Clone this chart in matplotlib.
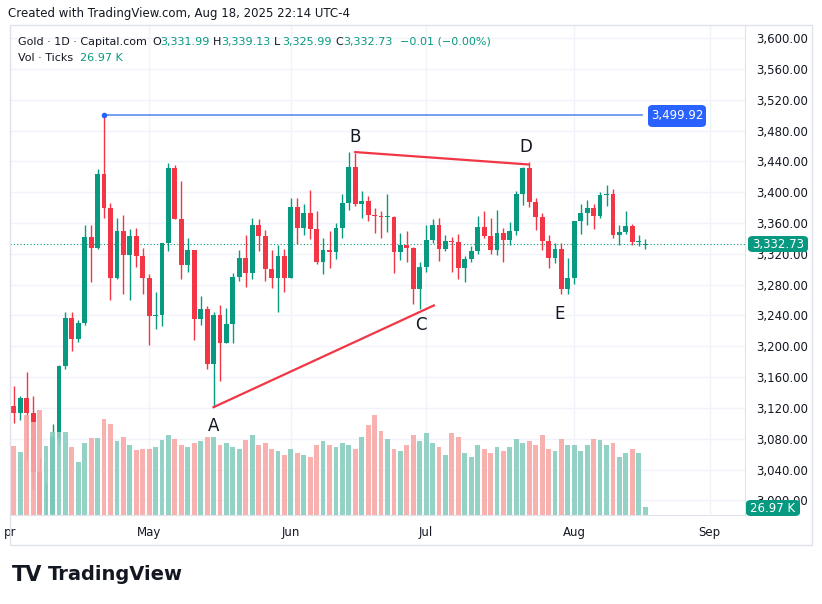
import matplotlib
matplotlib.use("Agg")
import matplotlib.pyplot as plt
from matplotlib.patches import FancyBboxPatch, Rectangle
import numpy as np

dates = (["Apr %d" % d for d in [1,2,3,4,7,8,9,10,11,14,15,16,17,21,22,23,24,25,28,29,30]] +
         ["May %d" % d for d in [1,2,5,6,7,8,9,12,13,14,15,16,19,20,21,22,23,26,27,28,29,30]] +
         ["Jun %d" % d for d in [2,3,4,5,6,9,10,11,12,13,16,17,18,19,20,23,24,25,26,27,30]] +
         ["Jul %d" % d for d in [1,2,3,4,7,8,9,10,11,14,15,16,17,18,21,22,23,24,25,28,29,30,31]] +
         ["Aug %d" % d for d in [1,4,5,6,7,8,11,12,13,14,15,18]])
opens = [3122,3113,3133,3114,3037,2982,2982,3080,3175,3237,3210,3230,3342,3327,3424,3380,3288,3349,3319,3343,3317,
         3288,3239,3241,3334,3431,3365,3306,3325,3235,3249,3177,3240,3204,3229,3290,3314,3295,3357,3343,3300,3289,3317,
         3289,3381,3353,3373,3352,3310,3325,3322,3354,3386,3432,3384,3388,3370,3369,3368,3368,3323,3332,3327,3274,
         3303,3338,3357,3326,3337,3335,3301,3313,3324,3355,3343,3325,3347,3338,3350,3397,3431,3387,3368,3336,3314,3326,3274,
         3289,3362,3373,3380,3369,3396,3398,3344,3348,3356,3335,3332]
highs = [3149,3135,3167,3136,3055,3023,3099,3176,3245,3245,3234,3357,3357,3430,3500,3386,3367,3371,3352,3353,3328,
         3294,3270,3334,3438,3435,3414,3340,3325,3265,3252,3245,3253,3250,3295,3325,3345,3366,3365,3351,3325,3331,3326,
         3393,3392,3385,3403,3376,3340,3349,3360,3397,3452,3451,3402,3395,3380,3376,3397,3369,3347,3350,3329,3309,
         3358,3365,3366,3345,3342,3346,3317,3330,3369,3375,3366,3377,3353,3361,3402,3433,3439,3393,3373,3345,3334,3334,3315,
         3363,3385,3390,3385,3400,3409,3404,3358,3375,3359,3344,3339]
lows = [3101,3105,3054,3015,2957,2970,2957,3073,3170,3194,3206,3228,3284,3326,3367,3260,3287,3268,3260,3303,3268,
        3202,3222,3226,3324,3365,3287,3296,3208,3228,3170,3121,3155,3204,3204,3285,3277,3287,3324,3285,3276,3245,3271,
        3289,3333,3344,3339,3307,3294,3301,3313,3341,3377,3382,3366,3363,3347,3340,3348,3295,3312,3310,3255,3248,
        3296,3334,3311,3324,3296,3287,3283,3310,3320,3340,3320,3319,3310,3332,3345,3383,3381,3351,3325,3301,3308,3268,3268,
        3281,3346,3358,3352,3366,3382,3341,3332,3346,3331,3330,3326]
closes = [3113,3133,3114,3037,2982,2982,3082,3175,3237,3210,3230,3342,3327,3424,3380,3288,3349,3319,3343,3317,3288,
          3239,3241,3334,3431,3365,3306,3325,3235,3249,3177,3240,3204,3229,3290,3314,3295,3357,3343,3300,3289,3317,3289,
          3381,3353,3373,3352,3310,3325,3322,3354,3386,3432,3384,3388,3370,3369,3368,3368,3323,3332,3327,3274,3303,
          3338,3357,3326,3337,3335,3301,3313,3324,3355,3343,3325,3347,3338,3350,3397,3431,3387,3368,3336,3314,3326,3274,3289,
          3362,3373,3380,3369,3396,3398,3344,3348,3356,3335,3336,3332.73]
volumes = [69,63,100,93,105,69,83,83,83,68,53,72,77,77,96,91,74,78,70,65,66,
           66,68,75,80,76,70,68,72,74,78,78,70,72,68,66,75,80,70,72,66,64,60,
           66,62,60,58,70,74,70,68,72,70,66,78,90,100,84,76,66,64,70,80,74,82,
           72,68,60,82,78,62,58,70,66,62,68,64,68,76,72,74,70,80,66,64,76,70,
           70,64,70,76,75,70,72,58,62,66,62,8]
month_labels = ["pr", "May", "Jun", "Jul", "Aug", "Sep"]
month_idx = [-0.6, 21, 43, 64, 87, 108]
price_ticks = list(range(3000, 3601, 40))

UP, DN = "#089981", "#F23645"
W, H = 822, 604
fig = plt.figure(figsize=(8.22, 6.04), dpi=100)
def fx(x): return x / W
def fy(y): return 1 - y / H
ax = fig.add_axes([fx(10), fy(515), fx(745) - fx(10), fy(25) - fy(515)])
vax = ax.twinx()
n = len(closes)
idx = np.arange(n)
ax.set_xlim(-0.465, 113.5)
ax.set_ylim(2981.1, 3616.9)
for i in idx:
    c = UP if closes[i] >= opens[i] else DN
    ax.vlines(i, lows[i], highs[i], color=c, lw=1, zorder=3)
    lo, hi = min(opens[i], closes[i]), max(opens[i], closes[i])
    ax.bar(i, max(hi - lo, 0.8), bottom=lo, width=0.75, color=c, zorder=3)
ax.yaxis.tick_right()
ax.set_yticks(price_ticks)
ax.set_yticklabels([format(p, ",.2f") for p in price_ticks], fontsize=8.5, color="#131722")
ax.set_xticks(month_idx)
ax.set_xticklabels(month_labels, fontsize=8.5, color="#131722")
ax.tick_params(length=0, pad=8)
ax.tick_params(axis="y", pad=8)
ax.grid(True, color="#F0F3FA", lw=1)
ax.set_axisbelow(True)
for s in ["top", "left"]:
    ax.spines[s].set_visible(False)
ax.spines["right"].set_color("#E0E3EB")
ax.spines["bottom"].set_color("#E0E3EB")

vax.set_ylim(0, 490)
vcols = ["#8ACDC0" if closes[i] >= opens[i] else "#F7A9A7" for i in idx]
vax.bar(idx, volumes, width=0.75, color=vcols, alpha=0.9, zorder=4)
vax.set_yticks([])
for s in vax.spines.values():
    s.set_visible(False)

# annotations
ax.plot([14, 97.5], [3499.92, 3499.92], color="#5B8DEF", lw=1.2, zorder=5)
ax.plot([14], [3499.92], "o", ms=3, color="#2962FF", zorder=6)
ax.plot([31, 65.2], [3121, 3253], color=DN, lw=1.6, zorder=5)
ax.plot([53, 79.8], [3452, 3436], color=DN, lw=1.6, zorder=5)
for t, i, p in [("A", 31, 3097), ("B", 53, 3472), ("C", 63.2, 3228), ("D", 79.5, 3458), ("E", 84.7, 3242)]:
    ax.text(i, p, t, fontsize=12, ha="center", va="center", color="#131722", zorder=6)
ax.axhline(3332.73, color="#089981", lw=0.8, ls=(0, (1, 2)), zorder=2)

fig.patches.append(Rectangle((fx(10), fy(545)), fx(812) - fx(10), fy(25) - fy(545), transform=fig.transFigure,
                             fill=False, edgecolor="#E0E3EB", lw=1))

fs = 8
fig.text(fx(8), fy(14), "Created with TradingView.com, Aug 18, 2025 22:14 UTC-4", fontsize=8.5, va="center", color="#131722")
fig.text(fx(18), fy(42), "Gold · 1D · Capital.com", fontsize=fs, va="center", color="#131722")
x0 = 152
for lab, val in [("O", "3,331.99"), ("H", "3,339.13"), ("L", "3,325.99"), ("C", "3,332.73")]:
    fig.text(fx(x0), fy(42), lab, fontsize=fs, va="center", color="#131722")
    fig.text(fx(x0 + 8), fy(42), val, fontsize=fs, va="center", color=UP)
    x0 += 61
fig.text(fx(400), fy(42), "−0.01 (−0.00%)", fontsize=fs, va="center", color=UP)
fig.text(fx(18), fy(58), "Vol · Ticks", fontsize=fs, va="center", color="#131722")
fig.text(fx(80), fy(58), "26.97 K", fontsize=fs, va="center", color=UP)

def badge(xc, yc, w, h, txt, col):
    fig.patches.append(FancyBboxPatch((fx(xc - w / 2), fy(yc + h / 2)), fx(w), h / H,
                                      boxstyle="round,pad=0,rounding_size=0.006", transform=fig.transFigure,
                                      facecolor=col, edgecolor="none", zorder=10))
    fig.text(fx(xc), fy(yc), txt, fontsize=8.5, color="white", ha="center", va="center", zorder=11)
badge(677, 116, 58, 22, "3,499.92", "#2962FF")
badge(778, 244, 60, 16, "3,332.73", UP)
badge(773, 508, 54, 16, "26.97 K", UP)

fig.text(fx(12), fy(575), "TV", fontsize=15, fontweight="bold", va="center", color="#131722")
fig.text(fx(48), fy(575), "TradingView", fontsize=14, fontweight="bold", va="center", color="#131722")
fig.savefig("out.png", dpi=100, facecolor="white")
